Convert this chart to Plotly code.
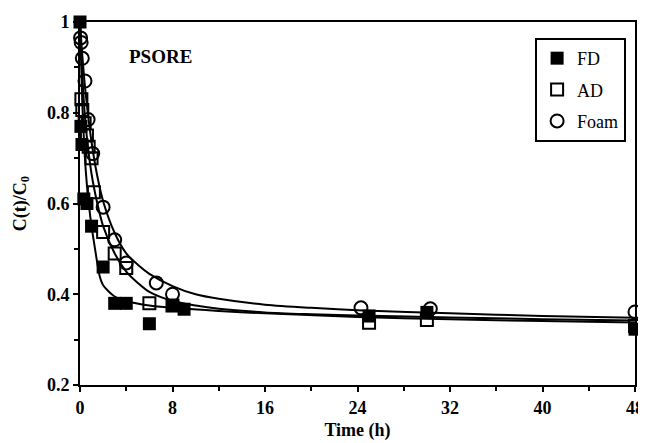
import plotly.graph_objects as go

# Measured data
fd_t = [0, 0.08, 0.17, 0.33, 0.6, 1, 2, 3, 4, 6, 8, 9, 25, 30, 48]
fd_c = [1.0, 0.77, 0.73, 0.61, 0.60, 0.55, 0.46, 0.38, 0.38, 0.335, 0.375, 0.367, 0.352, 0.36, 0.323]

ad_t = [0.12, 0.2, 0.4, 0.6, 0.75, 1, 1.2, 2, 3, 4, 6, 8, 25, 30, 48]
ad_c = [0.83, 0.806, 0.777, 0.75, 0.725, 0.70, 0.625, 0.537, 0.49, 0.458, 0.38, 0.375, 0.337, 0.343, 0.33]

foam_t = [0.05, 0.1, 0.2, 0.43, 0.7, 1.1, 2, 3, 4, 6.6, 8, 24.3, 30.3, 48]
foam_c = [0.965, 0.955, 0.92, 0.87, 0.785, 0.71, 0.592, 0.52, 0.469, 0.425, 0.40, 0.37, 0.368, 0.361]

# Fitted curves
fit_foam_t = [0, 0.25, 0.5, 1, 1.5, 2, 3, 4, 5, 6, 8, 10, 12, 16, 20, 24, 32, 40, 48]
fit_foam_c = [1.0, 0.91, 0.84, 0.735, 0.66, 0.605, 0.535, 0.49, 0.465, 0.445, 0.418, 0.40, 0.39, 0.377, 0.37, 0.365, 0.358, 0.352, 0.348]

fit_ad_t = [0, 0.25, 0.5, 1, 1.5, 2, 3, 4, 5, 6, 8, 10, 12, 16, 20, 24, 32, 40, 48]
fit_ad_c = [1.0, 0.86, 0.77, 0.665, 0.6, 0.55, 0.49, 0.45, 0.425, 0.405, 0.385, 0.375, 0.368, 0.36, 0.356, 0.353, 0.349, 0.345, 0.342]

fit_fd_t = [0, 0.2, 0.4, 0.6, 0.8, 1, 1.3, 1.7, 2, 3, 4, 6, 8, 12, 16, 24, 32, 40, 48]
fit_fd_c = [1.0, 0.82, 0.71, 0.64, 0.59, 0.55, 0.5, 0.44, 0.42, 0.395, 0.385, 0.375, 0.37, 0.363, 0.358, 0.35, 0.345, 0.341, 0.338]

x_ticks = [0, 8, 16, 24, 32, 40, 48]
y_ticks = [0.2, 0.4, 0.6, 0.8, 1.0]
y_labels = ["0.2", "0.4", "0.6", "0.8", "1"]

FONT = "Liberation Serif, Times New Roman, serif"

fig = go.Figure()
for t, c in [(fit_foam_t, fit_foam_c), (fit_ad_t, fit_ad_c), (fit_fd_t, fit_fd_c)]:
    fig.add_trace(go.Scatter(x=t, y=c, mode="lines", line=dict(color="black", width=2, shape="spline", smoothing=0.8),
                             showlegend=False, hoverinfo="skip", cliponaxis=False))

fig.add_trace(go.Scatter(x=fd_t, y=fd_c, mode="markers", name="FD", legendgroup="fd", cliponaxis=False,
                         marker=dict(symbol="square", size=13, color="black", line=dict(color="black", width=0))))
fig.add_trace(go.Scatter(x=ad_t, y=ad_c, mode="markers", name="AD", legendgroup="ad", cliponaxis=False,
                         marker=dict(symbol="square-open", size=12, color="black", line=dict(width=2))))
fig.add_trace(go.Scatter(x=foam_t, y=foam_c, mode="markers", name="Foam", legendgroup="foam", cliponaxis=False,
                         marker=dict(symbol="circle-open", size=13, color="black", line=dict(width=2))))

axis_common = dict(showgrid=False, zeroline=False, showline=True, linecolor="black", linewidth=2,
                   mirror=True, ticks="outside", tickcolor="black", tickwidth=2, ticklen=5, automargin=False,
                   tickfont=dict(family=FONT, size=18, color="black"))

fig.update_xaxes(range=[0, 48], tickvals=x_ticks, ticktext=[f"<b>{v}</b>" for v in x_ticks],
                 minor=dict(tickvals=[4, 12, 20, 28, 36, 44], ticks="outside", ticklen=4, tickwidth=2, tickcolor="black"),
                 title=dict(text="<b>Time (h)</b>", font=dict(family=FONT, size=18, color="black"), standoff=7),
                 **axis_common)
fig.update_yaxes(range=[0.2, 1.0], tickvals=y_ticks, ticktext=[f"<b>{v}</b>" for v in y_labels],
                 minor=dict(tickvals=[0.3, 0.5, 0.7, 0.9], ticks="outside", ticklen=4, tickwidth=2, tickcolor="black"),
                 title=dict(text="<b>C(t)/C<sub>0</sub></b>", font=dict(family=FONT, size=18, color="black"), standoff=16),
                 **axis_common)

fig.add_annotation(x=0.085, y=0.904, xref="paper", yref="paper", text="<b>PSORE</b>", showarrow=False,
                   xanchor="left", yanchor="middle", font=dict(family=FONT, size=19, color="black"))

fig.update_layout(
    width=646, height=443,
    margin=dict(l=72, r=19, t=14, b=66),
    paper_bgcolor="white", plot_bgcolor="white",
    legend=dict(x=0.82, y=0.956, xanchor="left", yanchor="top", bgcolor="white",
                bordercolor="black", borderwidth=2, font=dict(family=FONT, size=18, color="black"),
                itemwidth=30, tracegroupgap=5),
)

fig.write_html("out.html")
